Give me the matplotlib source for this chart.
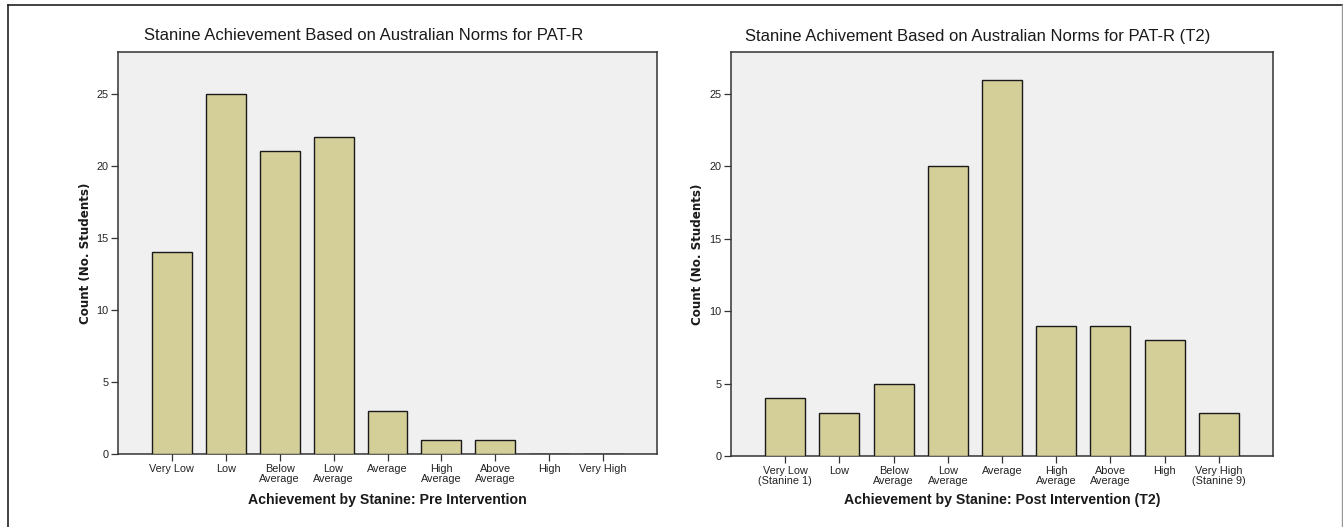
import matplotlib
matplotlib.use('Agg')
import matplotlib.pyplot as plt
from matplotlib.lines import Line2D

# Data
labels_pre = ['Very Low', 'Low', 'Below\nAverage', 'Low\nAverage', 'Average',
              'High\nAverage', 'Above\nAverage', 'High', 'Very High']
counts_pre = [14, 25, 21, 22, 3, 1, 1, 0, 0]

labels_post = ['Very Low\n(Stanine 1)', 'Low', 'Below\nAverage', 'Low\nAverage', 'Average',
               'High\nAverage', 'Above\nAverage', 'High', 'Very High\n(Stanine 9)']
counts_post = [4, 3, 5, 20, 26, 9, 9, 8, 3]

title_pre = 'Stanine Achievement Based on Australian Norms for PAT-R'
title_post = 'Stanine Achivement Based on Australian Norms for PAT-R (T2)'
xlabel_pre = 'Achievement by Stanine: Pre Intervention'
xlabel_post = 'Achievement by Stanine: Post Intervention (T2)'
ylabel = 'Count (No. Students)'
yticks = [0, 5, 10, 15, 20, 25]

W, H = 1343, 527
bar_color = '#d4cf98'
face_color = '#f0f0f0'

plt.rcParams['font.family'] = ['Liberation Sans', 'DejaVu Sans']

fig = plt.figure(figsize=(W / 100, H / 100), dpi=100)


def box(x0, y0, x1, y1):
    # pixel box -> figure fraction rect
    return [x0 / W, 1 - y1 / H, (x1 - x0) / W, (y1 - y0) / H]


def draw_panel(rect, labels, counts, title, xlabel, title_x, ylab_x):
    ax = fig.add_axes(rect)
    ax.set_facecolor(face_color)
    x = list(range(len(labels)))
    ax.bar(x, counts, width=0.74, color=bar_color, edgecolor='#1a1a1a', linewidth=1.0, zorder=3)
    ax.set_xlim(-1, 9)
    ax.set_ylim(0, 27.9)
    ax.set_xticks(x)
    ax.set_xticklabels(labels, fontsize=7.8, linespacing=1.05, color='#222222')
    ax.set_yticks(yticks)
    ax.set_yticklabels([str(v) for v in yticks], fontsize=7.8, color='#222222')
    ax.tick_params(axis='both', direction='out', length=5, width=0.9, color='#333333', pad=2)
    for sp in ax.spines.values():
        sp.set_color('#333333')
        sp.set_linewidth(1.1)
    fig.text(title_x / W, 1 - 36 / H, title, ha='center', va='center', fontsize=12, color='#1a1a1a')
    fig.text((rect[0] + rect[2] / 2), 1 - 500 / H, xlabel, ha='center', va='center',
             fontsize=10.2, fontweight='bold', color='#1a1a1a')
    fig.text(ylab_x / W, rect[1] + rect[3] / 2, ylabel, ha='center', va='center', rotation=90,
             fontsize=8.6, fontweight='bold', family='DejaVu Sans', color='#1a1a1a')
    return ax


draw_panel(box(118, 52, 657, 454), labels_pre, counts_pre, title_pre, xlabel_pre, 364, 85)
draw_panel(box(731, 52, 1273, 456), labels_post, counts_post, title_post, xlabel_post, 978, 697)

# outer frame around the whole figure
fr = dict(color='#222222', linewidth=1.2, transform=fig.transFigure)
fig.add_artist(Line2D([8 / W, 8 / W], [0, 1 - 5 / H], **fr))
fig.add_artist(Line2D([8 / W, 1342 / W], [1 - 5 / H, 1 - 5 / H], **fr))
fig.add_artist(Line2D([1341.5 / W, 1341.5 / W], [0, 1 - 5 / H], color='#999999', linewidth=1.0,
                      transform=fig.transFigure))

fig.savefig('out.png', dpi=100)
